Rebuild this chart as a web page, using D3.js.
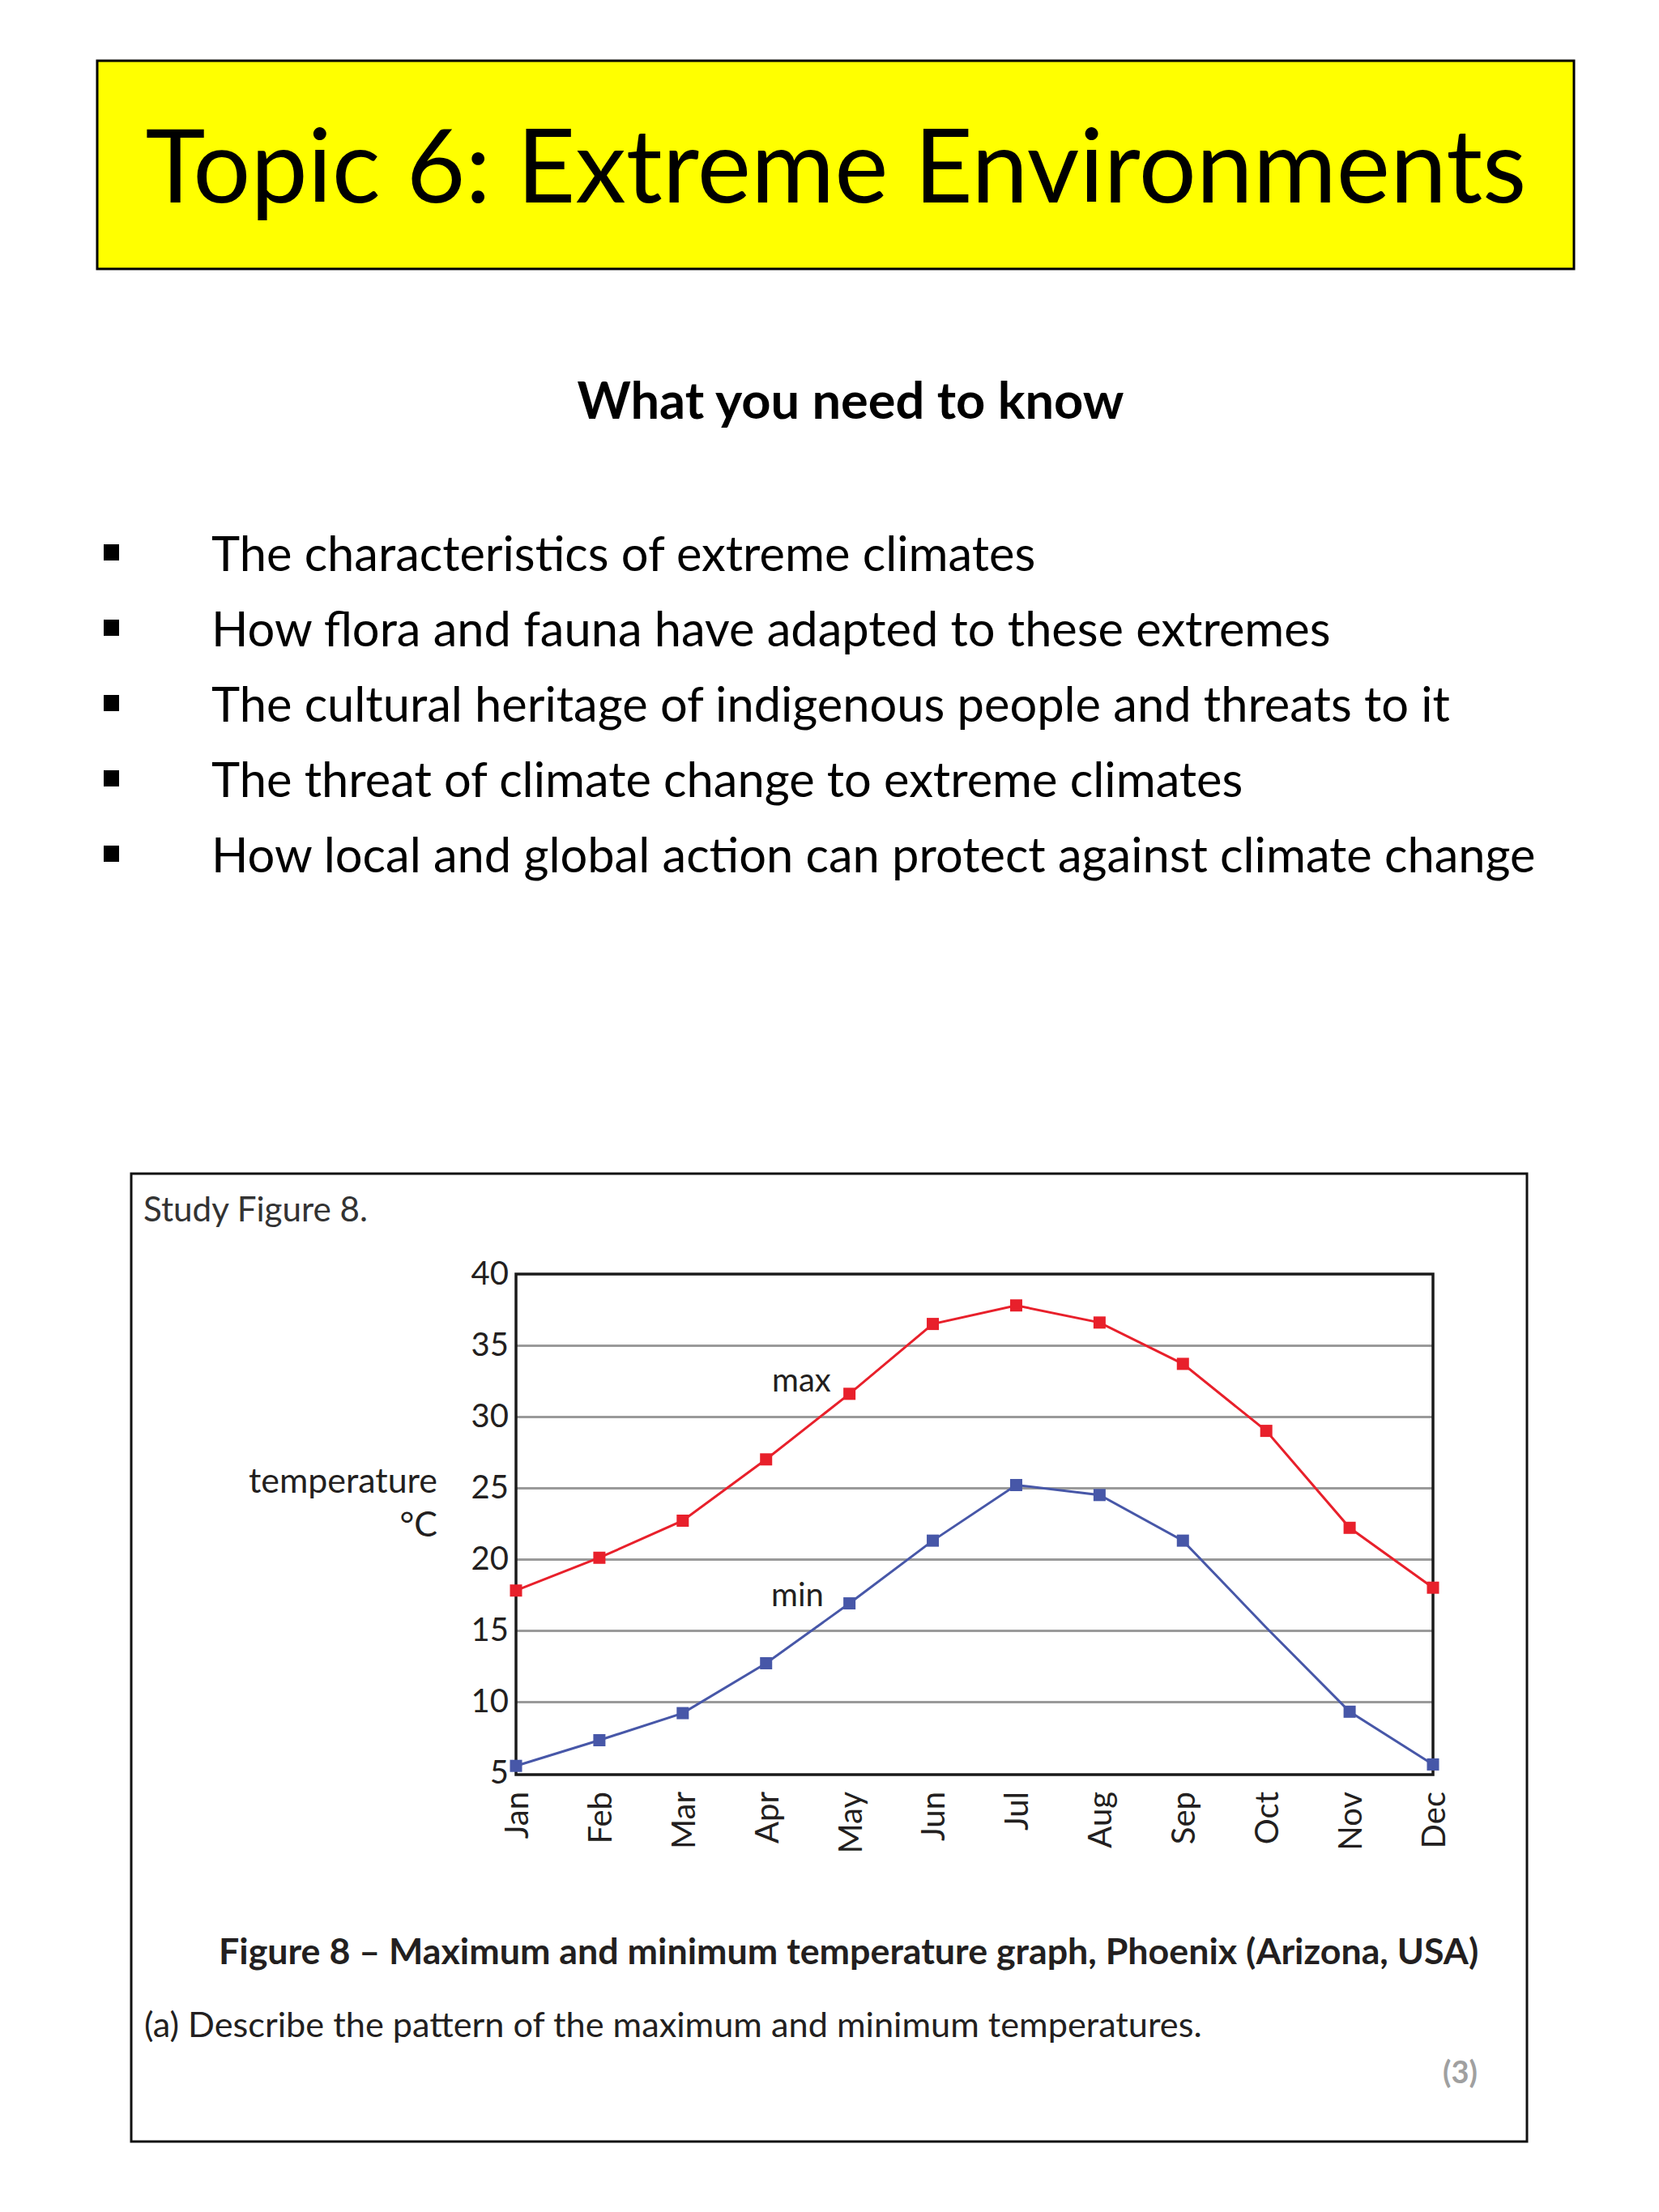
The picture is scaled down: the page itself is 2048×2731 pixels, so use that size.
<!DOCTYPE html>
<html><head><meta charset="utf-8">
<script src="https://cdn.jsdelivr.net/npm/d3@7"></script>
<style>body{margin:0;background:#fff} svg{display:block}</style>
</head><body>
<svg id="c" width="2048" height="2731"></svg>
<script>
// ---- data ----
const months = ["Jan","Feb","Mar","Apr","May","Jun","Jul","Aug","Sep","Oct","Nov","Dec"];
const maxTemp = [17.8, 20.1, 22.7, 27.0, 31.6, 36.5, 37.8, 36.6, 33.7, 29.0, 22.2, 18.0];
const minTemp = [5.5, 7.3, 9.2, 12.7, 16.9, 21.3, 25.2, 24.5, 21.3, 15.2, 9.3, 5.6];
const minHasMarker = [true, true, true, true, true, true, true, true, true, false, true, true];
const yTicks = [5, 10, 15, 20, 25, 30, 35, 40];
const slideTitle = "Topic 6: Extreme Environments";
const subTitle = "What you need to know";
const bullets = [
  "The characteristics of extreme climates",
  "How flora and fauna have adapted to these extremes",
  "The cultural heritage of indigenous people and threats to it",
  "The threat of climate change to extreme climates",
  "How local and global action can protect against climate change"
];
const figIntro = "Study Figure 8.";
const yLabel = ["temperature", "°C"];
const seriesLabels = ["max", "min"];
const caption = "Figure 8 – Maximum and minimum temperature graph, Phoenix (Arizona, USA)";
const question = "(a) Describe the pattern of the maximum and minimum temperatures.";
const marks = "(3)";

// ---- drawing ----
const svg = d3.select("#c");
const slideFont = "Lato, 'Noto Sans', sans-serif";
const chartFont = "Lato, 'Open Sans', sans-serif";

function fitWidth(sel, w) {
  const fs = parseFloat(sel.attr("font-size"));
  const cw = sel.node().getComputedTextLength();
  sel.attr("font-size", fs * w / cw);
  return fs * w / cw;
}

// Title box
svg.append("rect").attr("x", 120).attr("y", 75).attr("width", 1823).attr("height", 257)
  .attr("fill", "#ffff00").attr("stroke", "#000").attr("stroke-width", 3);
const t = svg.append("text").attr("x", 1032).attr("y", 250).attr("text-anchor", "middle")
  .attr("font-family", slideFont).attr("font-size", 120).attr("fill", "#000").text(slideTitle);
fitWidth(t, 1705);

// Subtitle
const st = svg.append("text").attr("x", 1050).attr("y", 517).attr("text-anchor", "middle")
  .attr("font-family", slideFont).attr("font-weight", "bold").attr("font-size", 56).attr("fill", "#000").text(subTitle);
fitWidth(st, 675);

// Bullets
const bulletY = d3.scalePoint().domain(d3.range(bullets.length)).range([705, 1077]);
const probe = svg.append("text").attr("font-family", slideFont).attr("font-size", 50).text(bullets[4]);
const bfs = fitWidth(probe, 1635);
probe.remove();
const bg = svg.append("g");
bullets.forEach((b, i) => {
  bg.append("rect").attr("x", 128).attr("y", bulletY(i) - 33).attr("width", 19).attr("height", 20).attr("fill", "#000");
  bg.append("text").attr("x", 261).attr("y", bulletY(i)).attr("font-family", slideFont)
    .attr("font-size", bfs).attr("fill", "#000").text(b);
});

// Figure box
svg.append("rect").attr("x", 162).attr("y", 1449).attr("width", 1723).attr("height", 1195)
  .attr("fill", "#fff").attr("stroke", "#111").attr("stroke-width", 3);

const txtColor = "#231f20";
const intro = svg.append("text").attr("x", 177).attr("y", 1508).attr("font-family", chartFont)
  .attr("font-size", 40).attr("fill", "#333").text(figIntro);
fitWidth(intro, 277);

const tl = svg.append("text").attr("x", 540).attr("y", 1843).attr("text-anchor", "end")
  .attr("font-family", chartFont).attr("font-size", 40).attr("fill", txtColor).text(yLabel[0]);
const tfs = fitWidth(tl, 233);
svg.append("text").attr("x", 540).attr("y", 1897).attr("text-anchor", "end")
  .attr("font-family", chartFont).attr("font-size", tfs).attr("fill", txtColor).text(yLabel[1]);

// Plot
const L = 637, R = 1769, T = 1573, B = 2189;
const x = d3.scalePoint().domain(months).range([L, R]).padding(0);
const y = d3.scaleLinear().domain([5, 40]).range([B, T]);

// gridlines
svg.append("g").attr("transform", `translate(${L},0)`)
  .call(d3.axisLeft(y).tickValues(yTicks.filter(v => v > 5 && v < 40)).tickSize(-(R - L)).tickFormat(""))
  .call(g => g.select(".domain").remove())
  .call(g => g.selectAll("line").attr("stroke", "#9a9a9a").attr("stroke-width", 3));

// plot border
svg.append("rect").attr("x", L).attr("y", T).attr("width", R - L).attr("height", B + 2 - T)
  .attr("fill", "none").attr("stroke", "#1a1a1a").attr("stroke-width", 3.5);

// y axis labels
svg.append("g").attr("transform", `translate(${L},0)`)
  .call(d3.axisLeft(y).tickValues(yTicks).tickSize(0).tickPadding(9))
  .call(g => g.select(".domain").remove())
  .call(g => g.selectAll("text").attr("font-family", chartFont).attr("font-size", 40).attr("fill", txtColor));

// x axis labels
svg.append("g").attr("transform", `translate(0,${B + 2})`)
  .call(d3.axisBottom(x).tickSize(0))
  .call(g => g.select(".domain").remove())
  .call(g => g.selectAll("text").attr("font-family", chartFont).attr("font-size", 40).attr("fill", txtColor)
    .attr("transform", "rotate(-90)").attr("x", -21).attr("y", 0).attr("dy", "0.36em").style("text-anchor", "end"));

// series
const series = [
  {vals: maxTemp, marker: months.map(() => true), color: "#e8202b"},
  {vals: minTemp, marker: minHasMarker, color: "#4757a8"}
];
const line = d3.line().x((d, i) => x(months[i])).y(d => y(d));
series.forEach(s => {
  svg.append("path").datum(s.vals).attr("d", line).attr("fill", "none")
    .attr("stroke", s.color).attr("stroke-width", 3);
  svg.append("g").selectAll("rect").data(s.vals.map((v, i) => ({v, i})).filter(d => s.marker[d.i]))
    .join("rect")
    .attr("x", d => x(months[d.i]) - 7.5).attr("y", d => y(d.v) - 7.5)
    .attr("width", 15).attr("height", 15).attr("fill", s.color);
});
svg.append("text").attr("x", 953).attr("y", 1718).attr("font-family", chartFont).attr("font-size", 40)
  .attr("fill", txtColor).text(seriesLabels[0]);
svg.append("text").attr("x", 952).attr("y", 1983).attr("font-family", chartFont).attr("font-size", 40)
  .attr("fill", txtColor).text(seriesLabels[1]);

// caption
const cap = svg.append("text").attr("x", 270).attr("y", 2425).attr("font-family", chartFont)
  .attr("font-weight", "bold").attr("font-size", 40).attr("fill", txtColor).text(caption);
fitWidth(cap, 1556);
const q = svg.append("text").attr("x", 178).attr("y", 2515).attr("font-family", chartFont)
  .attr("font-size", 40).attr("fill", txtColor).text(question);
fitWidth(q, 1306);
svg.append("text").attr("x", 1824).attr("y", 2572).attr("text-anchor", "end").attr("font-family", chartFont)
  .attr("font-size", 38).attr("font-weight", "bold").attr("fill", "#a0a0a0").text(marks);
</script>
</body></html>
